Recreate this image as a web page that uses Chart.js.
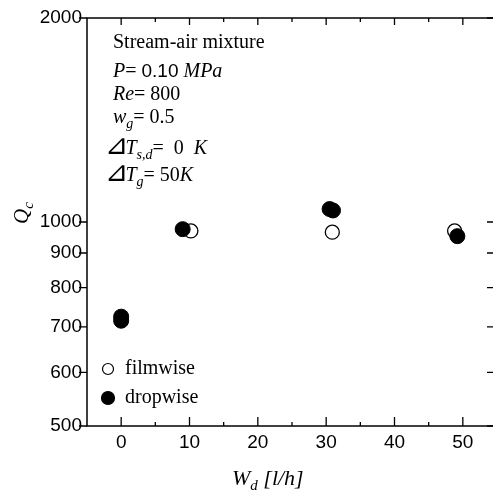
<!DOCTYPE html>
<html lang="en">
<head>
    <meta charset="UTF-8">
    <title>Qc vs Wd</title>
    <style>
        html, body {
            margin: 0;
            padding: 0;
            background: #fff;
            overflow: hidden;
        }
        #clip {
            position: relative;
            width: 493px;
            height: 495px;
            overflow: hidden;
        }
        #wrap {
            position: absolute;
            left: 0;
            top: 0;
            width: 500px;
            height: 495px;
        }
    </style>
</head>
<body>
    <div id="clip">
        <div id="wrap">
            <canvas id="chart"></canvas>
        </div>
    </div>

    <script src="https://cdn.jsdelivr.net/npm/chart.js"></script>
    <script>
        // data
        const filmX = [0, 10.2, 30.9, 48.8];
        const filmY = [720, 970, 966, 970];
        const dropX = [0, 0, 9.0, 30.5, 31.0, 49.2];
        const dropY = [725, 715, 976, 1045, 1040, 953];

        const xMin = -5, xMax = 55;
        const yMin = 500, yMax = 2000;
        const yTicks = [500, 600, 700, 800, 900, 1000, 2000];
        const xLabels = [0, 10, 20, 30, 40, 50];

        const serif = '"Liberation Serif", "Times New Roman", serif';
        const sans = '"Liberation Sans", Arial, sans-serif';

        function toPoints(xs, ys) {
            return xs.map((x, i) => ({ x: x, y: ys[i] }));
        }

        // draw a line of text made of pieces with different fonts
        function drawRich(ctx, x, y, segs) {
            let cx = x;
            segs.forEach(s => {
                ctx.font = s.f;
                ctx.fillText(s.t, cx, y + (s.dy || 0));
                cx += ctx.measureText(s.t).width + (s.gap || 0);
            });
        }

        const it = (px) => 'italic ' + px + 'px ' + serif;
        const rm = (px) => px + 'px ' + serif;
        const tri = '28px "DejaVu Sans"';

        const framePlugin = {
            id: 'frame',
            afterDraw(chart) {
                const ctx = chart.ctx;
                const a = chart.chartArea;
                const xs = chart.scales.x;
                const ys = chart.scales.y;
                ctx.save();
                ctx.strokeStyle = '#000';
                ctx.fillStyle = '#000';
                ctx.lineWidth = 1.5;
                ctx.strokeRect(a.left, a.top, a.right - a.left, a.bottom - a.top);

                ctx.lineWidth = 1.3;
                ctx.beginPath();
                // y ticks: outward on left, inward on right
                yTicks.forEach(v => {
                    const py = ys.getPixelForValue(v);
                    ctx.moveTo(a.left - 8, py); ctx.lineTo(a.left, py);
                    ctx.moveTo(a.right - 10, py); ctx.lineTo(a.right, py);
                });
                // x ticks: inward on top and bottom, minor at the fives
                for (let v = xMin + 5; v < xMax; v += 5) {
                    const px = xs.getPixelForValue(v);
                    const major = v % 10 === 0;
                    ctx.moveTo(px, a.bottom); ctx.lineTo(px, a.bottom - (major ? 9 : 4));
                    ctx.moveTo(px, a.top); ctx.lineTo(px, a.top + (major ? 7 : 4));
                }
                ctx.stroke();

                // annotation block
                ctx.textAlign = 'left';
                ctx.textBaseline = 'alphabetic';
                drawRich(ctx, 113, 48, [{ t: 'Stream-air mixture', f: rm(20) }]);
                drawRich(ctx, 113, 77, [
                    { t: 'P', f: it(20) }, { t: '= ', f: rm(20) },
                    { t: '0.10', f: '19px ' + sans }, { t: ' MPa', f: it(20) }
                ]);
                drawRich(ctx, 113, 100, [{ t: 'Re', f: it(20) }, { t: '= 800', f: rm(20) }]);
                drawRich(ctx, 113, 123, [
                    { t: 'w', f: it(20) }, { t: 'g', f: it(14), dy: 5 }, { t: '= 0.5', f: rm(20) }
                ]);
                drawRich(ctx, 105, 154, [
                    { t: '\u22BF', f: tri, gap: -3 }, { t: 'T', f: it(20) },
                    { t: 's,d', f: it(14), dy: 5 }, { t: '=  0  ', f: rm(20) }, { t: 'K', f: it(20) }
                ]);
                drawRich(ctx, 105, 181, [
                    { t: '\u22BF', f: tri, gap: -3 }, { t: 'T', f: it(20) },
                    { t: 'g', f: it(14), dy: 5 }, { t: '= 50', f: rm(20) }, { t: 'K', f: it(20) }
                ]);

                // legend
                const ds = chart.data.datasets;
                const legend = [ds[1], ds[0]];
                legend.forEach((d, i) => {
                    const ly = 369 + i * 29;
                    ctx.beginPath();
                    ctx.arc(108, ly, i === 0 ? 5.5 : 6.5, 0, Math.PI * 2);
                    ctx.fillStyle = d.backgroundColor;
                    ctx.fill();
                    ctx.lineWidth = 1.2;
                    ctx.strokeStyle = '#000';
                    ctx.stroke();
                    ctx.fillStyle = '#000';
                    ctx.font = rm(20);
                    ctx.textBaseline = 'middle';
                    ctx.fillText(d.label, 125, ly);
                });

                // axis titles
                ctx.textBaseline = 'alphabetic';
                drawRich(ctx, 232, 485, [
                    { t: 'W', f: it(22) }, { t: 'd', f: it(15), dy: 5 }, { t: ' [l/h]', f: it(22) }
                ]);
                ctx.translate(28, 224);
                ctx.rotate(-Math.PI / 2);
                drawRich(ctx, 0, 0, [{ t: 'Q', f: it(21) }, { t: 'c', f: it(15), dy: 5 }]);
                ctx.restore();
            }
        };

        new Chart(document.getElementById('chart'), {
            type: 'scatter',
            data: {
                datasets: [
                    {
                        label: 'dropwise',
                        data: toPoints(dropX, dropY),
                        backgroundColor: '#000',
                        borderColor: '#000',
                        borderWidth: 1,
                        pointRadius: 7.5,
                        order: 1
                    },
                    {
                        label: 'filmwise',
                        data: toPoints(filmX, filmY),
                        backgroundColor: '#fff',
                        borderColor: '#000',
                        borderWidth: 1.3,
                        pointRadius: 7,
                        order: 2
                    }
                ]
            },
            options: {
                responsive: true,
                maintainAspectRatio: false,
                animation: false,
                layout: {
                    autoPadding: false,
                    padding: { top: 18, right: 3, left: 0, bottom: 0 }
                },
                plugins: {
                    legend: { display: false },
                    tooltip: { enabled: false }
                },
                scales: {
                    x: {
                        type: 'linear',
                        min: xMin,
                        max: xMax,
                        grid: { display: false, drawTicks: false },
                        border: { display: false },
                        afterBuildTicks: (s) => { s.ticks = xLabels.map(v => ({ value: v })); },
                        afterFit: (s) => { s.height = 69; s.paddingLeft = 0; s.paddingRight = 0; },
                        ticks: {
                            color: '#000',
                            font: { family: sans, size: 19 },
                            padding: 5,
                            maxRotation: 0
                        }
                    },
                    y: {
                        type: 'logarithmic',
                        min: yMin,
                        max: yMax,
                        grid: { display: false, drawTicks: false },
                        border: { display: false },
                        afterBuildTicks: (s) => { s.ticks = yTicks.map(v => ({ value: v })); },
                        afterFit: (s) => { s.width = 87; s.paddingTop = 0; s.paddingBottom = 0; },
                        ticks: {
                            color: '#000',
                            font: { family: sans, size: 19 },
                            padding: 5,
                            callback: (v) => String(v)
                        }
                    }
                }
            },
            plugins: [framePlugin]
        });
    </script>
</body>
</html>
